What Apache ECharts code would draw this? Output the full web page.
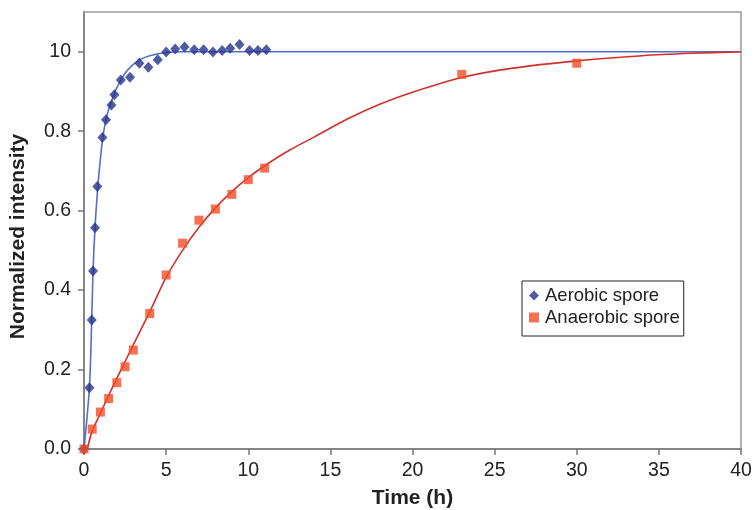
<!DOCTYPE html>
<html>
<head>
<meta charset="utf-8">
<script src="https://cdn.jsdelivr.net/npm/echarts@6/dist/echarts.min.js"></script>
<style>
html,body{margin:0;padding:0;background:#fff;}
#chart{width:754px;height:510px;}
</style>
</head>
<body>
<div id="chart"></div>
<script>
// ---- data ----
var aerobicTime = [0, 0.33, 0.47, 0.55, 0.67, 0.81, 1.12, 1.34, 1.67, 1.85, 2.24, 2.8, 3.37, 3.92, 4.49, 5.0, 5.55, 6.12, 6.71, 7.28, 7.85, 8.41, 8.9, 9.47, 10.08, 10.59, 11.1];
var aerobicValue = [0, 0.154, 0.325, 0.448, 0.557, 0.661, 0.784, 0.829, 0.866, 0.892, 0.929, 0.936, 0.971, 0.961, 0.98, 0.999, 1.007, 1.012, 1.005, 1.005, 0.999, 1.003, 1.009, 1.018, 1.003, 1.003, 1.005];

var anaerobicTime = [0, 0.5, 1, 1.5, 2, 2.5, 3, 4, 5, 6, 7, 8, 9, 10, 11, 23, 30];
var anaerobicValue = [0, 0.05, 0.093, 0.127, 0.167, 0.207, 0.249, 0.341, 0.438, 0.518, 0.576, 0.604, 0.641, 0.678, 0.707, 0.943, 0.971];

// fitted curves
var aerobicFitTime = [0, 0.33, 0.47, 0.55, 0.67, 0.85, 1.0, 1.15, 1.4, 1.7, 2.0, 2.5, 3.0, 3.5, 4.0, 5.0, 6.0, 40];
var aerobicFitValue = [0, 0.155, 0.325, 0.448, 0.557, 0.665, 0.73, 0.785, 0.84, 0.878, 0.91, 0.946, 0.968, 0.982, 0.99, 0.998, 1.0, 1.0];

var anaerobicFitTime = [0.2, 0.5, 1, 1.5, 2, 2.5, 3, 4, 5, 6, 7, 8, 9, 10, 11, 12.5, 14, 16, 18, 20, 23, 26, 30, 34, 37, 40];
var anaerobicFitValue = [0, 0.045, 0.09, 0.135, 0.178, 0.22, 0.262, 0.345, 0.432, 0.5, 0.558, 0.607, 0.648, 0.683, 0.713, 0.752, 0.785, 0.83, 0.868, 0.898, 0.935, 0.958, 0.977, 0.99, 0.996, 1.0];

var xTickValues = [0, 5, 10, 15, 20, 25, 30, 35, 40];
var yTickValues = [0, 0.2, 0.4, 0.6, 0.8, 1.0];
var yTickLabels = ['0.0', '0.2', '0.4', '0.6', '0.8', '10'];

var seriesNames = ['Aerobic spore', 'Anaerobic spore'];

function zip(a, b) { return a.map(function (v, i) { return [v, b[i]]; }); }

var chart = echarts.init(document.getElementById('chart'), null, {renderer: 'canvas'});
var font = 'Liberation Sans, Arial, sans-serif';
chart.setOption({
  animation: false,
  backgroundColor: '#ffffff',
  grid: {left: 84, right: 13, top: 12, bottom: 61, containLabel: false, outerBoundsMode: 'none',
    show: true, borderColor: '#999999', borderWidth: 1.5, backgroundColor: 'transparent'},
  legend: {
    data: [{name: seriesNames[0], icon: 'diamond'}, {name: seriesNames[1], icon: 'rect'}],
    orient: 'vertical',
    left: 522, top: 281,
    padding: [5, 4, 9, 7],
    itemWidth: 10, itemHeight: 10, itemGap: 3,
    borderColor: '#222', borderWidth: 1,
    backgroundColor: '#fff',
    textStyle: {fontFamily: font, fontSize: 18.5, color: '#222', lineHeight: 19, padding: [0, 0, 0, 1]}
  },
  xAxis: {
    type: 'value', min: 0, max: 40, interval: 5,
    name: 'Time (h)', nameLocation: 'middle', nameGap: 39,
    nameTextStyle: {fontFamily: font, fontSize: 21, fontWeight: 'bold', color: '#222'},
    axisLine: {show: true, onZero: false, lineStyle: {color: '#777', width: 1.5}},
    axisTick: {show: true, inside: false, length: 6, customValues: xTickValues, lineStyle: {color: '#777', width: 1.5}},
    axisLabel: {fontFamily: font, fontSize: 19.5, color: '#222', margin: 12, customValues: xTickValues},
    splitLine: {show: false}
  },
  yAxis: {
    type: 'value', min: 0, max: 1.1, interval: 0.2,
    name: 'Normalized intensity', nameLocation: 'middle', nameGap: 55, nameRotate: 90,
    nameTextStyle: {fontFamily: font, fontSize: 21, fontWeight: 'bold', color: '#222', padding: [0, 12, 0, 0]},
    axisLine: {show: true, onZero: false, lineStyle: {color: '#777', width: 1.5}},
    axisTick: {show: true, inside: false, length: 6, customValues: yTickValues, lineStyle: {color: '#777', width: 1.5}},
    axisLabel: {fontFamily: font, fontSize: 19.5, color: '#222', margin: 13, customValues: yTickValues,
      formatter: function (v) {
        var i = yTickValues.findIndex(function (t) { return Math.abs(t - v) < 1e-6; });
        return i >= 0 ? yTickLabels[i] : '';
      }},
    splitLine: {show: false}
  },
  series: [
    {name: 'aerobicFit', type: 'line', data: zip(aerobicFitTime, aerobicFitValue), showSymbol: false, smooth: 0.3,
      lineStyle: {color: '#4f6fd0', width: 1.6}, z: 2, silent: true},
    {name: 'anaerobicFit', type: 'line', data: zip(anaerobicFitTime, anaerobicFitValue), showSymbol: false, smooth: 0.3,
      lineStyle: {color: '#d2302a', width: 1.6}, z: 3, silent: true},
    {name: seriesNames[0], type: 'scatter', data: zip(aerobicTime, aerobicValue), symbol: 'diamond', symbolSize: [10, 11],
      itemStyle: {color: '#27318c'}, z: 4},
    {name: seriesNames[1], type: 'scatter', data: zip(anaerobicTime, anaerobicValue), symbol: 'rect', symbolSize: 9,
      itemStyle: {color: '#f24e25'}, z: 5}
  ]
});
</script>
</body>
</html>
